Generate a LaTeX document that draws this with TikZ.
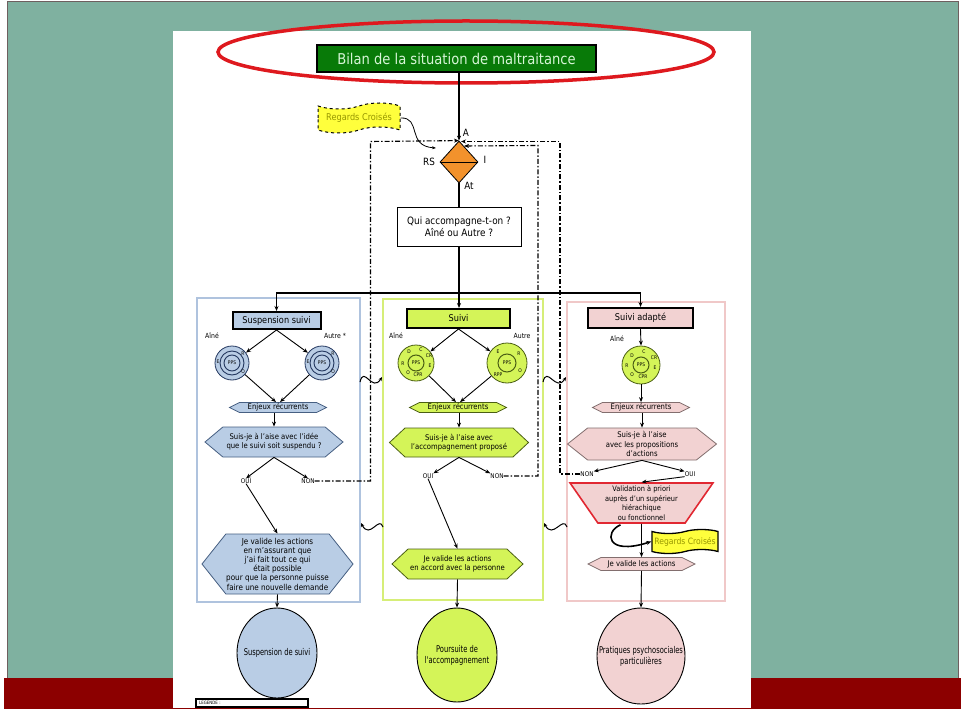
\documentclass[tikz,border=0pt]{standalone}
\usepackage{fontspec}
\setmainfont{DejaVu Sans}[FakeStretch=0.88]
\newfontfamily\narrowfont{DejaVu Sans}[FakeStretch=0.72]
\usetikzlibrary{shapes.geometric,shapes.symbols,arrows.meta,calc}
\definecolor{tealbg}{RGB}{127,177,160}
\definecolor{tealedge}{RGB}{110,95,95}
\definecolor{bandred}{RGB}{140,0,0}
\definecolor{ellred}{RGB}{222,25,30}
\definecolor{ttlgreen}{RGB}{8,122,8}
\definecolor{ttltext}{RGB}{215,245,215}
\definecolor{orng}{RGB}{242,146,44}
\definecolor{blueF}{RGB}{185,205,229}
\definecolor{blueB}{RGB}{175,195,222}
\definecolor{blueD}{RGB}{70,95,130}
\definecolor{navy}{RGB}{35,55,95}
\definecolor{limeF}{RGB}{212,244,88}
\definecolor{limeB}{RGB}{214,238,120}
\definecolor{limeD}{RGB}{75,95,20}
\definecolor{pinkF}{RGB}{242,210,210}
\definecolor{pinkB}{RGB}{240,200,200}
\definecolor{pinkD}{RGB}{130,110,110}
\definecolor{trapred}{RGB}{225,40,50}
\definecolor{yel}{RGB}{255,255,60}
\definecolor{olivetxt}{RGB}{150,150,0}
\newcommand\fsml{\fontsize{7.8}{9.2}\selectfont}
\newcommand\ftiny{\fontsize{5}{5}\selectfont}
\begin{document}
\begin{tikzpicture}[x=1pt,y=-1pt,
  every node/.style={inner sep=0pt, align=center},
  arr/.style={line width=0.9pt, -{Stealth[length=5pt,width=4pt]}},
  dd/.style={line width=1.1pt, dash pattern=on 5pt off 2pt on 1.5pt off 2pt, -{Stealth[length=5pt,width=4pt]}},
  wav/.style={line width=1pt, -{Stealth[length=4pt,width=3.5pt]}},
  ttl/.style={draw=black, line width=2pt, font=\fontsize{9.3}{11}\selectfont},
  lbl/.style={font=\fontsize{7}{8}\selectfont},
  yn/.style={font=\fontsize{6.5}{7}\selectfont},
  hx/.style={signal, signal to=west and east, line width=0.8pt, font=\fsml},
  hxL/.style={hx, draw=blueD, fill=blueF},
  hxM/.style={hx, draw=limeD, fill=limeF},
  hxR/.style={hx, draw=pinkD, fill=pinkF},
  diskL/.style={circle, draw=navy, fill=blueF, line width=0.8pt},
  diskG/.style={circle, draw=limeD, fill=limeF, line width=0.8pt},
  ppsL/.style={circle, draw=navy, line width=0.9pt, minimum size=16pt, font=\ftiny},
  ppsG/.style={circle, draw=limeD, line width=1pt, minimum size=16pt, font=\ftiny},
  lt/.style={font=\ftiny},
  elli/.style={ellipse, draw=black, line width=0.9pt},
  eltxt/.style={font=\narrowfont\fontsize{9.3}{11}\selectfont},
  rc/.style={tape, fill=yel, text=olivetxt}
]
\useasboundingbox (0,0) rectangle (965,719);
% background
\fill[white] (0,0) rectangle (965,719);
\draw[fill=tealbg, draw=tealedge, line width=1pt] (7,2) rectangle (958,680);
\fill[bandred] (4,678) rectangle (961,709);
\fill[white] (173,31) rectangle (751,708);

% title
\draw[ellred, line width=3.5pt] (466,52) ellipse (248 and 31);
\node[draw=black, line width=1.6pt, fill=ttlgreen, text=ttltext, minimum width=279pt, minimum height=27pt, font=\fontsize{14.9}{16}\selectfont] (title) at (456.5,58.5) {Bilan de la situation de maltraitance};

% diamond
\node[diamond, draw=black, line width=0.8pt, fill=orng, minimum width=38pt, minimum height=42pt] (dia) at (459,162) {};
\draw[line width=0.8pt] (dia.west) -- (dia.east);
\node[font=\fontsize{10}{11}\selectfont] (lA) at (466,133) {A};
\node[font=\fontsize{10}{11}\selectfont] (lRS) at (429,162) {RS};
\node[font=\fontsize{10}{11}\selectfont] (lI) at (485,160) {I};
\node[font=\fontsize{10}{11}\selectfont] (lAt) at (469,186) {At};

\node[rc, draw=black, dashed, line width=1pt, minimum width=82pt, minimum height=30pt, tape bend height=6pt, font=\fontsize{9.3}{11}\selectfont] (rc1) at (359,118) {Regards Croisés};
\coordinate (rcEnd) at (436,148);
\draw[line width=0.8pt, -{Stealth[length=4pt,width=3pt]}] (rc1.east) .. controls (422,117) and (406,146) .. (rcEnd);

\draw[arr, line width=1.2pt] (dia.north |- title.south) -- (dia.north);

\node[draw=black, line width=0.8pt, minimum width=124pt, minimum height=39pt, font=\fontsize{10.1}{12}\selectfont] (qui) at (459,226.5) {Qui accompagne-t-on ?\\Aîné ou Autre ?};
\draw[line width=1.2pt] (dia.south) -- (qui.north);

% panels
\node[draw=blueB, line width=1.8pt, minimum width=163pt, minimum height=304pt] (panL) at (278.5,450) {};
\node[draw=limeB, line width=2.2pt, minimum width=160pt, minimum height=301pt] (panM) at (463,449.5) {};
\node[draw=pinkB, line width=1.8pt, minimum width=158pt, minimum height=299pt] (panR) at (646,451.5) {};

\node[ttl, fill=blueF, minimum width=88pt, minimum height=17pt] (susp) at (276.5,320.5) {Suspension suivi};
\node[ttl, fill=limeF, minimum width=103pt, minimum height=19pt] (suivi) at (458.5,318.5) {Suivi};
\node[ttl, fill=pinkF, minimum width=105pt, minimum height=20pt] (adapt) at (640.5,318) {Suivi adapté};

\draw[arr, line width=1.2pt] (qui.south) -- (qui.south |- suivi.north);
\coordinate (barL) at (277,293);
\draw[line width=1.5pt, {Stealth[length=5pt,width=4pt]}-{Stealth[length=5pt,width=4pt]}] (susp.north) -- (susp.north |- barL) -- (adapt.north |- barL) -- (adapt.north);

% ---------- left panel
\node[lbl] (aL1) at (212,336) {Aîné};
\node[lbl] (aL2) at (335,336) {Autre *};
\node[diskL, minimum size=34pt] (cL1) at (232,363) {};
\node[diskL, minimum size=34pt] (cL2) at (322,363) {};
\draw[navy, line width=0.9pt] (cL1.center) circle (12);
\draw[navy, line width=0.9pt] (cL2.center) circle (12);
\node[ppsL] (pL1) at (cL1.center) {PPS};
\node[ppsL] (pL2) at (cL2.center) {PPS};
\node[lt] at ($(cL1)+(-14,-1)$) {E};
\node[lt] at ($(cL1)+(11,-9)$) {R};
\node[lt] at ($(cL1)+(11,9)$) {O};
\node[lt] at ($(cL2)+(-14,-1)$) {E};
\node[lt] at ($(cL2)+(11,-9)$) {R};
\node[lt] at ($(cL2)+(11,9)$) {O};
\draw[arr] (susp.south) -- (cL1);
\draw[arr] (susp.south) -- (cL2);
\node[hxL, minimum width=97pt, minimum height=10pt, signal pointer angle=53] (enjL) at (278,407.5) {Enjeux récurrents};
\draw[arr] (cL1) -- ($(enjL.north)+(-2,0)$);
\draw[arr] (cL2) -- ($(enjL.north)+(2,0)$);
\node[hxL, minimum width=138pt, minimum height=30pt, signal pointer angle=80] (sjL) at (274,442) {Suis-je à l'aise avec l'idée\\que le suivi soit suspendu ?};
\draw[arr] (enjL.south -| sjL.north) -- (sjL.north);
\node[yn] (ouiL) at (246,481) {OUI};
\node[yn] (nonL) at (308,481) {NON};
\draw[arr] (sjL.south) -- (ouiL.north);
\draw[arr] (sjL.south) -- (nonL.north);
\node[hxL, minimum width=151pt, minimum height=60pt, signal pointer angle=103, font=\fontsize{8.2}{9.2}\selectfont] (bigL) at (277.5,564) {Je valide les actions\\en m'assurant que\\j'ai fait tout ce qui\\était possible\\pour que la personne puisse\\faire une nouvelle demande};
\draw[arr] (ouiL.south) -- (bigL.north);

% ---------- middle panel
\node[lbl] (aM1) at (396,336) {Aîné};
\node[lbl] (aM2) at (522,336) {Autre};
\node[diskG, minimum size=36pt] (cM1) at (416,363) {};
\node[diskG, minimum size=40pt] (cM2) at (507,363) {};
\node[ppsG] (pM1) at (cM1.center) {PPS};
\node[ppsG, minimum size=18pt] (pM2) at (cM2.center) {PPS};
\node[lt] at ($(cM1)+(-7,-11)$) {D};
\node[lt] at ($(cM1)+(5,-13)$) {C};
\node[lt] at ($(cM1)+(13,-7)$) {CR};
\node[lt] at ($(cM1)+(14,3)$) {E};
\node[lt] at ($(cM1)+(-13,1)$) {R};
\node[lt] at ($(cM1)+(-8,10)$) {O};
\node[lt] at ($(cM1)+(2,12)$) {CPR};
\node[lt] at ($(cM2)+(-9,-11)$) {E};
\node[lt] at ($(cM2)+(12,-9)$) {R};
\node[lt] at ($(cM2)+(13,8)$) {O};
\node[lt] at ($(cM2)+(-9,12)$) {RPP};
\draw[arr] (suivi.south) -- (cM1);
\draw[arr] (suivi.south) -- (cM2);
\node[hxM, minimum width=97pt, minimum height=10pt, signal pointer angle=53] (enjM) at (458,407.5) {Enjeux récurrents};
\draw[arr] (cM1) -- ($(enjM.north)+(-2,0)$);
\draw[arr] (cM2) -- ($(enjM.north)+(2,0)$);
\node[hxM, minimum width=139pt, minimum height=29pt, signal pointer angle=86] (sjM) at (459,442.5) {Suis-je à l'aise avec\\l'accompagnement proposé};
\draw[arr] (enjM.south -| sjM.north) -- (sjM.north);
\node[yn] (ouiM) at (428,476) {OUI};
\node[yn] (nonM) at (497,476) {NON};
\draw[arr] (sjM.south) -- (ouiM.north east);
\draw[arr] (sjM.south) -- (nonM.north west);
\node[hxM, minimum width=131pt, minimum height=30pt, signal pointer angle=86] (jvM) at (457.5,564) {Je valide les actions\\en accord avec la personne};
\draw[arr] (ouiM.south) -- (jvM.north);

% ---------- right panel
\node[lbl] (aR1) at (617,339) {Aîné};
\node[diskG, minimum size=38pt] (cR1) at (641,365) {};
\node[ppsG] (pR1) at (cR1.center) {PPS};
\node[lt] at ($(cR1)+(-9,-9)$) {D};
\node[lt] at ($(cR1)+(3,-13)$) {C};
\node[lt] at ($(cR1)+(13,-7)$) {CR};
\node[lt] at ($(cR1)+(14,3)$) {E};
\node[lt] at ($(cR1)+(-14,1)$) {R};
\node[lt] at ($(cR1)+(-9,10)$) {O};
\node[lt] at ($(cR1)+(2,12)$) {CPR};
\draw[arr] (adapt.south) -- (cR1.north);
\node[hxR, minimum width=97pt, minimum height=10pt, signal pointer angle=53] (enjR) at (641,407.5) {Enjeux récurrents};
\draw[arr] (cR1.south) -- (enjR.north);
\node[hxR, minimum width=149pt, minimum height=32pt, signal pointer angle=77] (sjR) at (642,444) {Suis-je à l'aise\\avec les propositions\\d'actions};
\draw[arr] (enjR.south -| sjR.north) -- (sjR.north);
\node[yn] (nonR) at (587,474) {NON};
\node[yn] (ouiR) at (690,474) {OUI};
\draw[arr] (sjR.south) -- (nonR.north east);
\draw[arr] (sjR.south) -- (ouiR.north west);
\node[trapezium, shape border rotate=180, trapezium left angle=56, trapezium right angle=56, trapezium stretches=true, draw=trapred, line width=1.6pt, fill=pinkF, minimum width=143pt, minimum height=40pt, font=\fontsize{7.5}{9.4}\selectfont] (trap) at (641.5,503) {Validation à priori\\auprès d'un supérieur\\hiérachique\\ou fonctionnel};
\draw[arr] (ouiR.south west) -- (trap.north);
\node[rc, draw=black, line width=1.3pt, minimum width=66pt, minimum height=24pt, tape bend height=4pt, font=\fontsize{8.7}{10}\selectfont] (rc2) at (685,541.5) {Regards Croisés};
\node[hxR, minimum width=107pt, minimum height=13pt, signal pointer angle=53] (jvR) at (641.5,564) {Je valide les actions};
\draw[arr] (trap.south) -- (jvR.north);
\draw[arr, line width=1.6pt] ($(trap.south)+(-21,1)$) .. controls (604,532) and (606,556) .. (rc2.west);

% ---------- dashed returns
\coordinate (cLt) at (370.5,141.5);
\coordinate (cMt) at (538,145.5);
\coordinate (cRt) at (560,141.5);
\coordinate (dMend) at (464,146);
\coordinate (dRend) at (461,141.5);
\draw[dd] (nonL.east) -| (cLt) -- (dia.north);
\draw[dd] (nonM.east) -| (cMt) -- (dMend);
\draw[dd] (nonR.west) -| (cRt) -- (dRend);

% ---------- wavy links between panels
\coordinate (w1a) at (360,382); \coordinate (w1b) at (382,377);
\coordinate (w2a) at (543,382); \coordinate (w2b) at (566,377);
\coordinate (w3a) at (383,527); \coordinate (w3b) at (361,523);
\coordinate (w4a) at (567,527); \coordinate (w4b) at (544,523);
\draw[wav] (w1a) .. controls (364,365) and (372,393) .. (w1b);
\draw[wav] (w2a) .. controls (547,365) and (556,393) .. (w2b);
\draw[wav] (w3a) .. controls (379,515) and (370,540) .. (w3b);
\draw[wav] (w4a) .. controls (563,515) and (553,540) .. (w4b);

% ---------- outcomes
\node[elli, fill=blueF, minimum width=80pt, minimum height=90pt] (elL) at (277,653) {};
\node[elli, fill=limeF, minimum width=80pt, minimum height=94pt] (elM) at (457,655) {};
\node[elli, fill=pinkF, minimum width=88pt, minimum height=96pt] (elR) at (641,656) {};
\node[eltxt] (tL) at (elL) {Suspension de suivi};
\node[eltxt] (tM) at (elM) {Poursuite de\\l'accompagnement};
\node[eltxt] (tR) at (elR) {Pratiques psychosociales\\particulières};
\draw[arr] (bigL.south) -- (elL.north);
\draw[arr] (jvM.south) -- (elM.north);
\draw[arr] (jvR.south) -- (elR.north);

% legend
\node[draw=black, line width=1.3pt, minimum width=112pt, minimum height=8pt] (leg) at (252,703) {};
\node[font=\fontsize{4.5}{5}\selectfont, anchor=west] (legt) at (199,703) {LEGENDE :};
\end{tikzpicture}
\end{document}
